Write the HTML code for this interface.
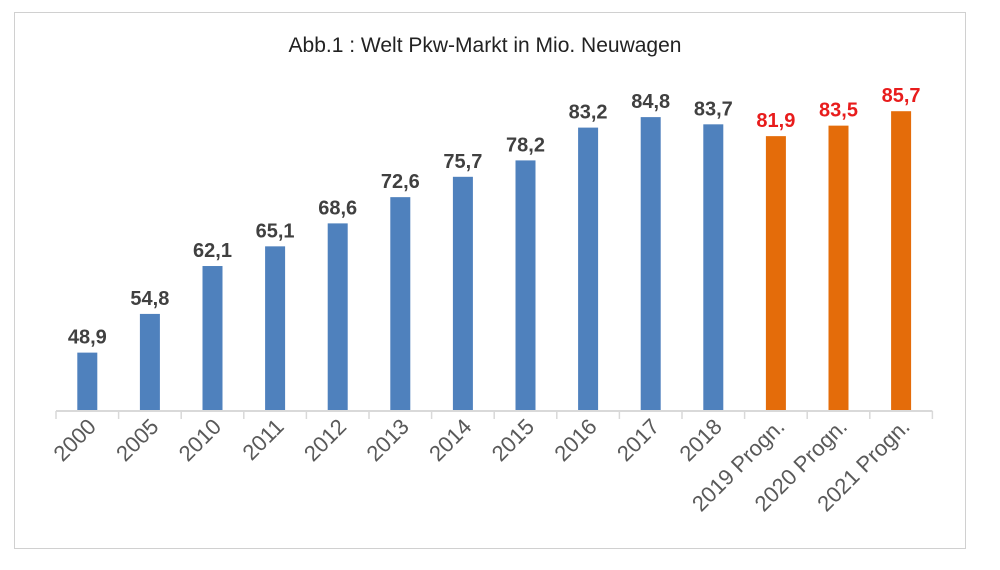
<!DOCTYPE html>
<html><head><meta charset="utf-8"><style>
body{margin:0;background:#fff;width:1000px;height:565px;overflow:hidden}
svg{font-family:"Liberation Sans",sans-serif}
</style></head><body>
<svg width="1000" height="565">
<rect x="14.5" y="12.5" width="951" height="536" fill="#fff" stroke="#d0d0d0"/>
<text x="485" y="52" text-anchor="middle" font-size="21" fill="#222">Abb.1 : Welt Pkw-Markt in Mio. Neuwagen</text>
<g id="plot"></g>
</svg>
<script>
const categories=["2000","2005","2010","2011","2012","2013","2014","2015","2016","2017","2018","2019 Progn.","2020 Progn.","2021 Progn."];
const values=[48.9,54.8,62.1,65.1,68.6,72.6,75.7,78.2,83.2,84.8,83.7,81.9,83.5,85.7];
const labels=["48,9","54,8","62,1","65,1","68,6","72,6","75,7","78,2","83,2","84,8","83,7","81,9","83,5","85,7"];
const forecast=[false,false,false,false,false,false,false,false,false,false,false,true,true,true];
const ns="http://www.w3.org/2000/svg";
const g=document.getElementById('plot');
const x0=56,cw=62.6,base=411,yMin=40,yMax=90,plotTop=83;
const x=i=>x0+cw*i+cw/2;
const y=v=>base-(v-yMin)/(yMax-yMin)*(base-plotTop);
function mk(t,a){const e=document.createElementNS(ns,t);for(const k in a)e.setAttribute(k,a[k]);g.appendChild(e);return e;}
values.forEach((v,i)=>{
 const r=mk('rect',{x:x(i)-10,y:y(v),width:20,height:base-y(v),fill:forecast[i]?'#e46c0a':'#4f81bd'});
 
 
 const t=mk('text',{x:x(i),y:y(v)-9,'text-anchor':'middle','font-size':20,'font-weight':'bold',fill:forecast[i]?'#e81c1c':'#404040'});
 t.textContent=labels[i];
 
 
 const c=mk('text',{x:0,y:0,'text-anchor':'end','font-size':22,fill:'#595959',transform:`translate(${x(i)+10},${base+17}) rotate(-45)`});
 c.textContent=categories[i];
 
 
});
const ax=mk('line',{x1:x0,y1:base,x2:x0+cw*categories.length,y2:base,stroke:'#d9d9d9','stroke-width':2});


for(let i=0;i<=categories.length;i++){
 const tk=mk('line',{x1:x0+cw*i,y1:base,x2:x0+cw*i,y2:base+8,stroke:'#d9d9d9','stroke-width':1.5});
 
 
}
</script>
</body></html>
